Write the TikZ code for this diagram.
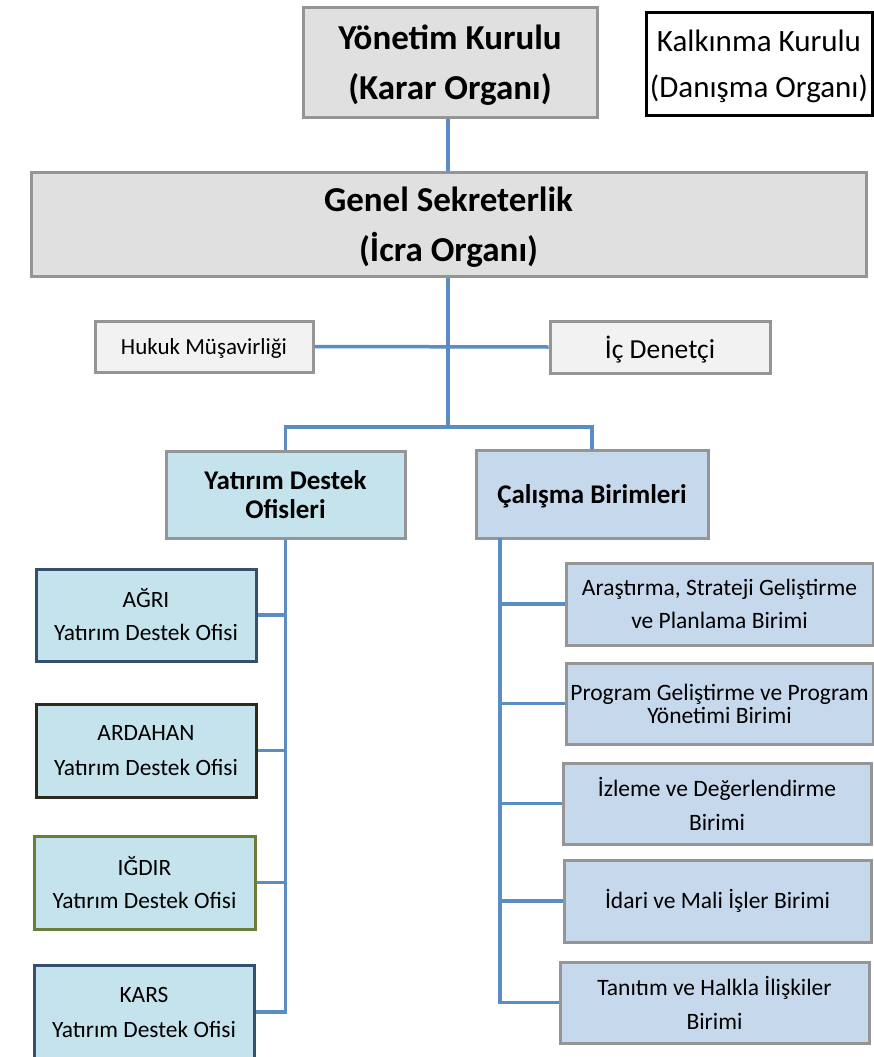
\documentclass[tikz,border=0pt]{standalone}
\usepackage{fontspec}
\setmainfont{Carlito}
\definecolor{lineblue}{HTML}{5B8DC4}
\definecolor{boxgray}{HTML}{E0E0E0}
\definecolor{boxlight}{HTML}{F2F2F2}
\definecolor{edgegray}{HTML}{959595}
\definecolor{cyanfill}{HTML}{C4E3EC}
\definecolor{bluefill}{HTML}{C6D8EC}
\definecolor{darkblue}{HTML}{34506E}
\definecolor{darkbrown}{HTML}{2B2A1C}
\definecolor{olive}{HTML}{6B7D3B}
\tikzset{
  unit/.style={draw=edgegray, line width=3pt, align=center, inner sep=0pt},
  flat/.style={text depth=0pt},
  conn/.style={draw=lineblue, line width=3.5pt}
}
\begin{document}
\begin{tikzpicture}[x=1pt,y=-1pt]
\useasboundingbox (0,0) rectangle (874,1057);
% top level
\node[unit, flat, fill=boxgray, minimum width=294pt, minimum height=109pt,
  font=\bfseries\fontsize{35}{50}\selectfont] (yk) at (450,62.5) {Yönetim Kurulu\\(Karar Organı)};
\node[unit, flat, draw=black, fill=white, minimum width=226pt, minimum height=102pt,
  font=\fontsize{31}{46}\selectfont] (kk) at (759,64) {Kalkınma Kurulu\\(Danışma Organı)};
\node[unit, flat, fill=boxgray, minimum width=835pt, minimum height=104pt,
  font=\bfseries\fontsize{35}{50}\selectfont] (gs) at (448.5,224) {Genel Sekreterlik\\(İcra Organı)};
% staff
\node[unit, flat, fill=boxlight, minimum width=218pt, minimum height=51pt,
  font=\fontsize{23}{26}\selectfont] (hm) at (204,346.5) {Hukuk Müşavirliği};
\node[unit, flat, fill=boxlight, minimum width=220pt, minimum height=52pt,
  font=\fontsize{27.5}{30}\selectfont] (id) at (660,347) {İç Denetçi};
% second level
\node[unit, fill=cyanfill, minimum width=239pt, minimum height=87pt,
  font=\bfseries\fontsize{27}{29}\selectfont] (yd) at (285.5,494.5) {Yatırım Destek\\Ofisleri};
\node[unit, flat, fill=bluefill, minimum width=232pt, minimum height=88pt,
  font=\bfseries\fontsize{27}{30}\selectfont] (cb) at (592,494) {Çalışma Birimleri};
% offices
\node[unit, draw=darkblue, fill=cyanfill, minimum width=220pt, minimum height=92pt,
  font=\fontsize{23.4}{33}\selectfont] (agri) at (146,615) {AĞRI\\Yatırım Destek Ofisi};
\node[unit, draw=darkbrown, fill=cyanfill, minimum width=220pt, minimum height=93pt,
  font=\fontsize{23.4}{35}\selectfont] (ardahan) at (146,750.5) {ARDAHAN\\Yatırım Destek Ofisi};
\node[unit, draw=olive, fill=cyanfill, minimum width=221pt, minimum height=93pt,
  font=\fontsize{23.4}{33}\selectfont] (igdir) at (144.5,882.5) {IĞDIR\\Yatırım Destek Ofisi};
\node[unit, draw=darkblue, fill=cyanfill, minimum width=220pt, minimum height=93pt,
  font=\fontsize{23.4}{35}\selectfont] (kars) at (144,1012) {KARS\\Yatırım Destek Ofisi};
% units
\node[unit, fill=bluefill, minimum width=307pt, minimum height=82pt,
  font=\fontsize{23.5}{33}\selectfont] (arge) at (719.5,604) {Araştırma, Strateji Geliştirme\\ve Planlama Birimi};
\node[unit, fill=bluefill, minimum width=307pt, minimum height=81pt,
  font=\fontsize{23.5}{23}\selectfont] (prog) at (719.5,703.5) {Program Geliştirme ve Program\\Yönetimi Birimi};
\node[unit, fill=bluefill, minimum width=308pt, minimum height=81pt,
  font=\fontsize{23.5}{34}\selectfont] (izle) at (717,803.5) {İzleme ve Değerlendirme\\Birimi};
\node[unit, fill=bluefill, minimum width=307pt, minimum height=82pt,
  font=\fontsize{23.5}{26}\selectfont] (idari) at (717.5,901) {İdari ve Mali İşler Birimi};
\node[unit, fill=bluefill, minimum width=309pt, minimum height=81pt,
  font=\fontsize{23.5}{34}\selectfont] (tanitim) at (714.5,1002.5) {Tanıtım ve Halkla İlişkiler\\Birimi};
% connectors
\coordinate (j) at (448,427);
\coordinate (rs) at (500,538);
\draw[conn] (j |- yk.south) -- (j |- gs.north);
\draw[conn] (gs.south -| j) -- (j);
\draw[conn] (hm.east) -- (id.west);
\draw[conn] (yd.north) |- (j) -| (cb.north);
\draw[conn] (yd.south) |- (kars.east);
\foreach \n in {agri,ardahan,igdir}
  \draw[conn] (\n.east) -- (\n.east -| yd.south);
\draw[conn] (rs) |- (tanitim.west);
\foreach \n in {arge,prog,izle,idari}
  \draw[conn] (\n.west) -- (\n.west -| rs);
\end{tikzpicture}
\end{document}
